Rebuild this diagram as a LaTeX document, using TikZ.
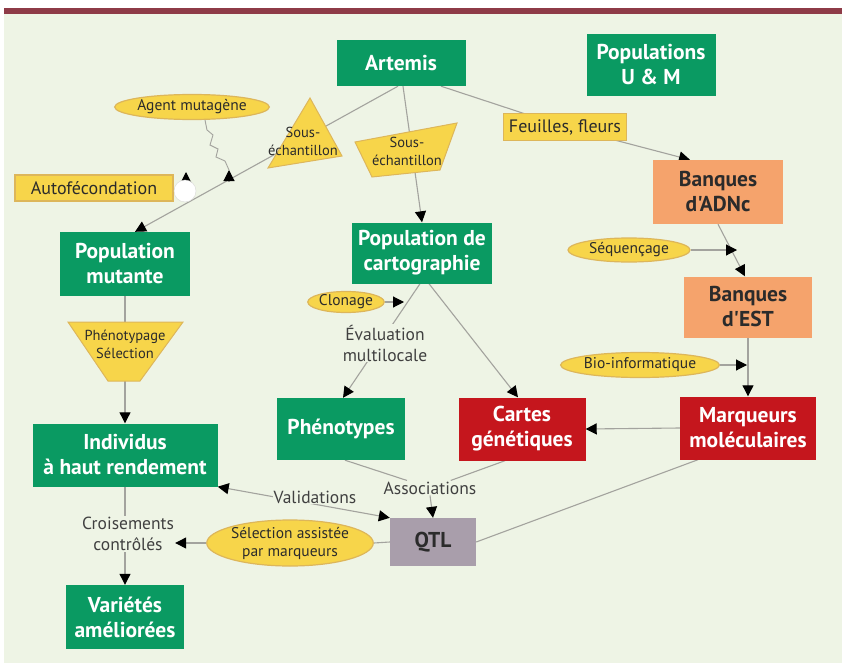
\documentclass[tikz,border=0pt]{standalone}
\usepackage{fontspec}
\setmainfont{PT Sans}[Ligatures=TeXOff]
\usetikzlibrary{arrows.meta,shapes.geometric,calc}
\definecolor{bg}{HTML}{EEF4E5}
\definecolor{barcol}{HTML}{8E3B47}
\definecolor{vert}{HTML}{0A9A62}
\definecolor{orangeb}{HTML}{F5A36C}
\definecolor{rouge}{HTML}{C5161D}
\definecolor{qtlcol}{HTML}{A99EAB}
\definecolor{jaune}{HTML}{F7D54A}
\definecolor{jauneb}{HTML}{DDB65A}
\definecolor{trait}{HTML}{A3A39E}
\definecolor{texte}{HTML}{2B2B2B}
\pgfdeclarelayer{back}
\pgfdeclarelayer{lines}
\pgfsetlayers{back,lines,main}
\tikzset{
  box/.style={rectangle, align=center, inner sep=0pt, font=\bfseries\fontsize{21.5}{25}\selectfont},
  gbox/.style={box, fill=vert, text=white},
  obox/.style={box, fill=orangeb, text=texte},
  rbox/.style={box, fill=rouge, text=white},
  qbox/.style={box, fill=qtlcol, text=texte},
  yell/.style={ellipse, fill=jaune, draw=jauneb, line width=1.2pt, inner sep=0pt, text=texte, font=\fontsize{15.5}{18}\selectfont, align=center},
  yrect/.style={rectangle, fill=jaune, draw=jauneb, line width=1.5pt, inner sep=0pt, text=texte, font=\fontsize{18}{21}\selectfont},
  yshape/.style={fill=jaune, draw=jauneb, line width=1pt},
  ytext/.style={text=texte, font=\fontsize{14.5}{18}\selectfont, align=center, inner sep=0pt},
  lbl/.style={text=texte!90, font=\fontsize{17.5}{21}\selectfont, align=center, inner sep=1pt, fill=bg},
  conn/.style={draw=trait, line width=1.1pt},
  tip/.tip={Triangle[length=11pt,width=11pt,black]},
  arr/.style={conn, -tip},
}
\begin{document}
\begin{tikzpicture}[x=1pt,y=-1pt]
\useasboundingbox (0,0) rectangle (842,663);
\begin{pgfonlayer}{back}
  \fill[white] (0,0) rectangle (842,663);
  \fill[bg] (4,14) rectangle (842,663);
  \fill[barcol] (4,8) rectangle (842,14);
\end{pgfonlayer}

% main boxes
\node[gbox, minimum width=129pt, minimum height=46pt] (artemis) at (401,63) {Artemis};
\node[gbox, minimum width=129pt, minimum height=62pt] (popum) at (651,65) {Populations\\U \& M};
\node[obox, minimum width=130pt, minimum height=64pt] (adnc) at (718,192) {Banques\\d'ADNc};
\node[gbox, minimum width=130pt, minimum height=64pt] (popmut) at (125,264) {Population\\mutante};
\node[gbox, minimum width=140pt, minimum height=61pt] (popcarto) at (422,253) {Population de\\cartographie};
\node[obox, minimum width=128pt, minimum height=61pt] (est) at (748,307) {Banques\\d'EST};
\node[gbox, minimum width=128pt, minimum height=62pt] (pheno) at (341,429) {Phénotypes};
\node[rbox, minimum width=127pt, minimum height=63pt] (cartes) at (522,429) {Cartes\\génétiques};
\node[rbox, minimum width=136pt, minimum height=63pt] (marq) at (748,428) {Marqueurs\\moléculaires};
\node[gbox, minimum width=185pt, minimum height=63pt] (indiv) at (125,455) {Individus\\à haut rendement};
\node[qbox, minimum width=86pt, minimum height=48pt] (qtl) at (433,542) {QTL};
\node[gbox, minimum width=118pt, minimum height=64pt] (var) at (125,617) {Variétés\\améliorées};

% yellow labels
\node[yell, minimum width=140pt, minimum height=25pt] (agent) at (192,107) {Agent mutagène};
\node[yell, minimum width=122pt, minimum height=24pt] (seq) at (629,250) {Séquençage};
\node[yell, minimum width=62pt, minimum height=21pt] (clon) at (346,302) {Clonage};
\node[yell, minimum width=130pt, minimum height=25pt] (bio) at (640,365) {Bio-informatique};
\node[yell, minimum width=150pt, minimum height=46pt] (sas) at (290,543) {Sélection assistée\\par marqueurs};
\node[yrect, minimum width=123pt, minimum height=27pt] (feuil) at (565,127) {Feuilles, fleurs};
\node[yrect, minimum width=158pt, minimum height=26pt] (autof) at (94,188) {Autofécondation};
\node[circle, fill=white, draw=trait!40, minimum size=22pt, inner sep=0pt] (loop) at (185,191) {};

% yellow polygons
\filldraw[yshape] (310,98) -- (342,156) -- (268,168) -- cycle;
\node[ytext] (sous1) at (303,141) {Sous-\\échantillon};
\filldraw[yshape] (355,142) -- (457,123) -- (440,170) -- (372,177) -- cycle;
\node[ytext] (sous2) at (407,151) {Sous-\\échantillon};
\filldraw[yshape] (68,322) -- (183,322) -- (140,381) -- (108,381) -- cycle;
\node[ytext] (phsel) at (125,344) {Phénotypage\\Sélection};

% free labels
\node[lbl] (eval) at (385,343) {Évaluation\\multilocale};
\node[lbl] (valid) at (315,497) {Validations};
\node[lbl] (assoc) at (430,488) {Associations};
\node[lbl] (crois) at (128,534) {Croisements\\contrôlés};

% free ends
\coordinate (seqend) at (737,250);
\coordinate (bioend) at (747,365);
\coordinate (clonend) at (404,302);
\coordinate (agentstart) at (205,120);
\coordinate (agentend) at (229,170);
\coordinate (agentjoin) at (229,182);
\coordinate (loopjoin) at (186,185);
\coordinate (looptop) at (186,172);

\begin{pgfonlayer}{lines}
  \draw[arr] ([xshift=-3pt]artemis.south) -- ([xshift=10pt]popmut.north);
  \draw[arr] ([xshift=2pt]artemis.south) -- (popcarto.north);
  \draw[arr] ([xshift=40pt]artemis.south) -- (feuil.center) -- ([xshift=-28pt]adnc.north);
  \draw[conn, line width=0.9pt] (agentstart) -- ++(2,10) -- ++(6,5) -- ++(-3,10) -- ++(8,4) -- ++(-2,8) -- ++(9,4) -- (agentend);
  \draw[arr] (agentjoin) -- (agentend);
  \draw[conn] (autof.east) -- (loop.west);
  \draw[arr] (loopjoin) -- (looptop);
  \draw[arr] (adnc.south) -- ([xshift=-3pt]est.north);
  \draw[arr] (seq.east) -- (seqend);
  \draw[arr] (est.south) -- (marq.north);
  \draw[arr] (bio.east) -- (bioend);
  \draw[arr] (marq.west) -- (cartes.east);
  \draw[arr] ([xshift=7pt]popcarto.south) -- ([xshift=-4pt]cartes.north);
  \draw[arr] ([xshift=-2pt]popcarto.south) -- ([xshift=2pt]pheno.north);
  \draw[arr] (clon.east) -- (clonend);
  \draw[arr] (popmut.south) -- (indiv.north);
  \draw[conn] ([xshift=4pt]pheno.south) -- (assoc);
  \draw[conn] ([xshift=-17pt]cartes.south) -- (assoc);
  \draw[arr] (assoc.south) -- (qtl.north);
  \draw[conn, tip-tip] (indiv.south east) -- (qtl.north west);
  \draw[conn] (qtl.east) -- ([xshift=-50pt]marq.south);
  \draw[conn] (qtl.west) -- (sas.east);
  \draw[arr] (sas.west) -- (sas.west -| crois.east);
  \draw[conn] (indiv.south) -- (crois.north -| indiv.south);
  \draw[arr] (crois.south -| var.north) -- (var.north);
\end{pgfonlayer}
\end{tikzpicture}
\end{document}
